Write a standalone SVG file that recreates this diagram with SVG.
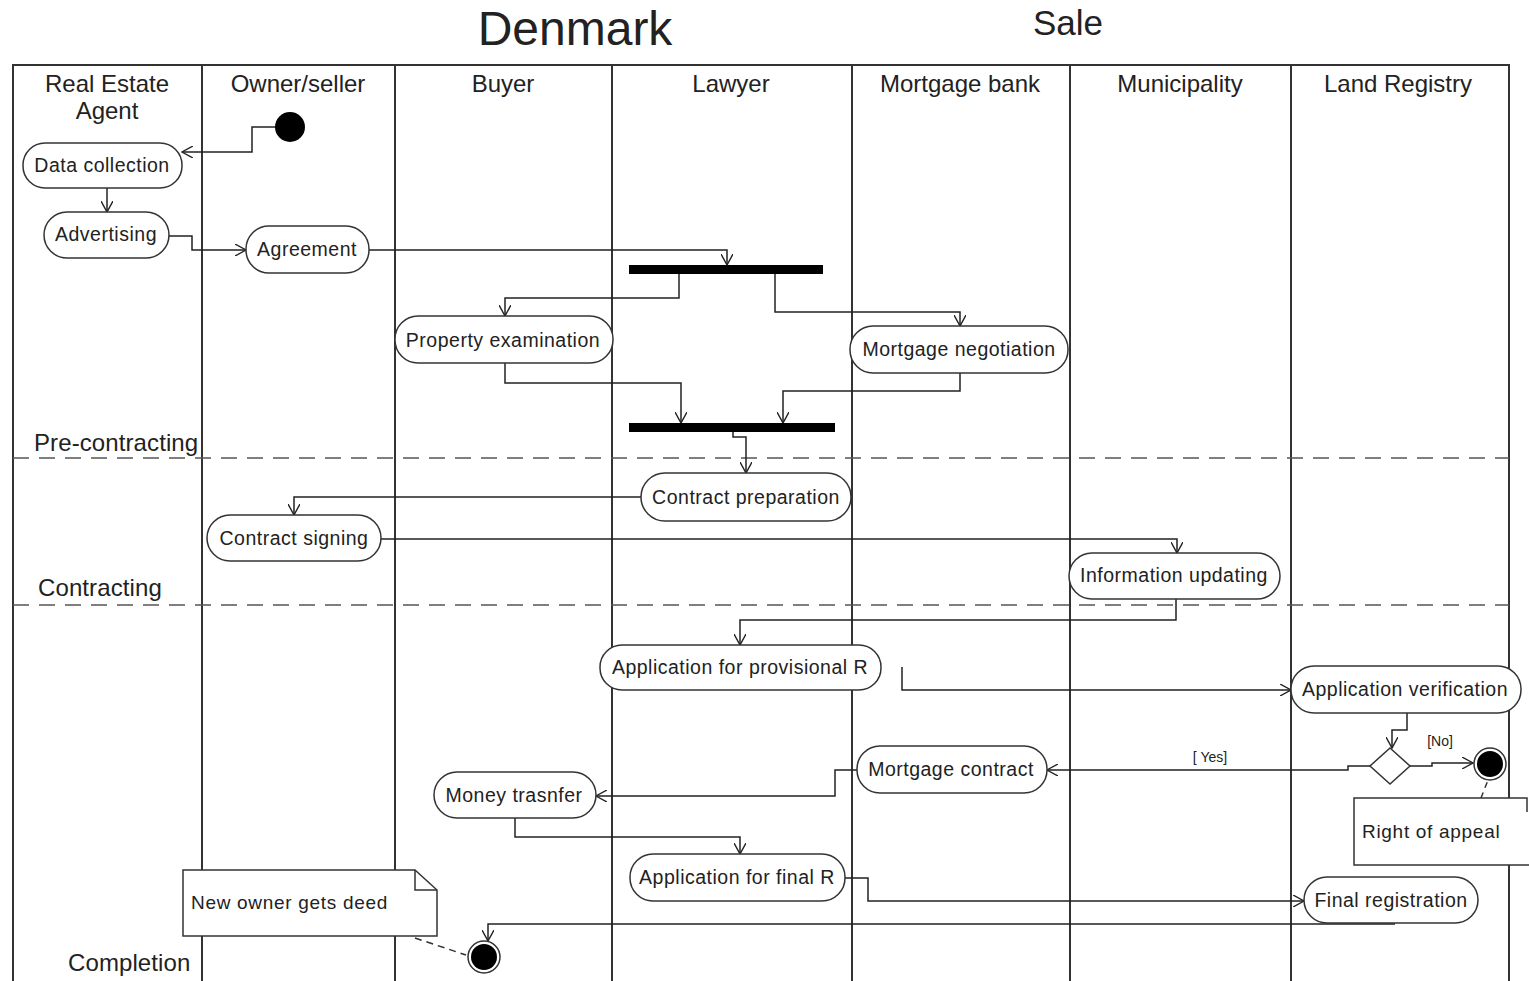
<svg xmlns="http://www.w3.org/2000/svg" width="1529" height="981" viewBox="0 0 1529 981">
<defs>
<marker id="arr" viewBox="0 0 12 12" refX="11" refY="6" markerWidth="12" markerHeight="12" markerUnits="userSpaceOnUse" orient="auto">
<path d="M0,0 L11,6 L0,12" fill="none" stroke="#222" stroke-width="1.4"/>
</marker>
<style>
text{font-family:"Liberation Sans",Arial,sans-serif;fill:#222}
.lane{stroke:#333;stroke-width:2;fill:none}
.phase{stroke:#555;stroke-width:1.5;stroke-dasharray:16,10;fill:none}
.node rect{fill:#fff;stroke:#333;stroke-width:1.5}
.node text{font-size:19.5px;text-anchor:middle;letter-spacing:0.5px}
.hdr{font-size:24px;text-anchor:middle}
.ph{font-size:24px;letter-spacing:0.1px}
.c{fill:none;stroke:#222;stroke-width:1.5;marker-end:url(#arr)}
.bar{fill:#000}
.note{fill:#fff;stroke:#333;stroke-width:1.5}
.nt{font-size:19px;letter-spacing:0.7px}
.small{font-size:14px}
</style>
</defs>
<rect width="1529" height="981" fill="#fff"/>
<text x="575" y="45" font-size="48" text-anchor="middle">Denmark</text>
<text x="1068" y="35" font-size="35" text-anchor="middle">Sale</text>

<g id="lanes">
<path class="lane" d="M13,981 V65 H1509 V981 M202,65 V981 M395,65 V981 M612,65 V981 M852,65 V981 M1070,65 V981 M1291,65 V981"/>
<text class="hdr" x="107" y="92">Real Estate</text>
<text class="hdr" x="107" y="119">Agent</text>
<text class="hdr" x="298" y="92">Owner/seller</text>
<text class="hdr" x="503" y="92">Buyer</text>
<text class="hdr" x="731" y="92">Lawyer</text>
<text class="hdr" x="960" y="92">Mortgage bank</text>
<text class="hdr" x="1180" y="92">Municipality</text>
<text class="hdr" x="1398" y="92">Land Registry</text>
</g>
<g id="phases">
<path class="phase" d="M13,458 H1509 M13,605 H1509"/>
<text class="ph" x="34" y="451">Pre-contracting</text>
<text class="ph" x="38" y="596">Contracting</text>
<text class="ph" x="68" y="971">Completion</text>
</g>

<g id="connectors">
<path class="c" d="M276,127 H252 V152 H182"/>
<path class="c" d="M107,188 V212"/>
<path class="c" d="M169,236 H192 V250 H246"/>
<path class="c" d="M369,250 H727 V265"/>
<path class="c" d="M679,274 V298 H505 V316"/>
<path class="c" d="M775,274 V312 H960 V326"/>
<path class="c" d="M505,363 V383 H681 V423"/>
<path class="c" d="M960,373 V391 H783 V423"/>
<path class="c" d="M733,432 V437 H746 V473"/>
<path class="c" d="M641,497 H294 V515"/>
<path class="c" d="M381,539 H1177 V553"/>
<path class="c" d="M1176,599 V620 H740 V645"/>
<path class="c" d="M902,667 V690 H1291"/>
<path class="c" d="M1407,713 V730 H1392 V748"/>
<path class="c" d="M1410,766 H1432 V763 H1473"/>
<path class="c" d="M1370,766 H1348 V770 H1047"/>
<path class="c" d="M857,770 H835 V796 H596"/>
<path class="c" d="M515,818 V837 H740 V854"/>
<path class="c" d="M845,878 H868 V901 H1304"/>
<path class="c" d="M1395,924 H488 V941"/>
<path d="M415,938 L466,955" fill="none" stroke="#333" stroke-width="1.5" stroke-dasharray="7,5"/>
<path d="M1481,798 L1488,780" fill="none" stroke="#333" stroke-width="1.5" stroke-dasharray="6,5"/>
<text class="small" x="1440" y="746" text-anchor="middle">[No]</text>
<text class="small" x="1210" y="762" text-anchor="middle">[ Yes]</text>
</g>

<g id="start"><circle cx="290" cy="127" r="15" fill="#000"/></g>
<g id="fork"><rect class="bar" x="629" y="265" width="194" height="9"/></g>
<g id="join"><rect class="bar" x="629" y="423" width="206" height="9"/></g>
<g id="decision"><polygon points="1390,748 1410,766 1390,784 1370,766" fill="#fff" stroke="#333" stroke-width="1.5"/></g>
<g id="end-no"><circle cx="1490" cy="764" r="16" fill="#fff" stroke="#333" stroke-width="1.5"/><circle cx="1490" cy="764" r="13" fill="#000"/></g>
<g id="end-final"><circle cx="484" cy="957" r="16" fill="#fff" stroke="#333" stroke-width="1.5"/><circle cx="484" cy="957" r="13" fill="#000"/></g>

<g id="data-collection" class="node"><rect x="23" y="143" width="159" height="45" rx="22"/><text x="102" y="172">Data collection</text></g>
<g id="advertising" class="node"><rect x="44" y="212" width="125" height="46" rx="23"/><text x="106" y="241">Advertising</text></g>
<g id="agreement" class="node"><rect x="246" y="226" width="123" height="47" rx="23"/><text x="307" y="256">Agreement</text></g>
<g id="property-examination" class="node"><rect x="395" y="316" width="218" height="47" rx="23"/><text x="503" y="347">Property examination</text></g>
<g id="mortgage-negotiation" class="node"><rect x="850" y="326" width="218" height="47" rx="23"/><text x="959" y="356">Mortgage negotiation</text></g>
<g id="contract-preparation" class="node"><rect x="641" y="473" width="210" height="48" rx="24"/><text x="746" y="504">Contract preparation</text></g>
<g id="contract-signing" class="node"><rect x="207" y="515" width="174" height="46" rx="23"/><text x="294" y="545">Contract signing</text></g>
<g id="information-updating" class="node"><rect x="1069" y="553" width="211" height="46" rx="23"/><text x="1174" y="582">Information updating</text></g>
<g id="app-provisional" class="node"><rect x="600" y="645" width="281" height="45" rx="22"/><text x="740" y="674">Application for provisional R</text></g>
<g id="app-verification" class="node"><rect x="1291" y="666" width="230" height="47" rx="23"/><text x="1405" y="696">Application verification</text></g>
<g id="mortgage-contract" class="node"><rect x="857" y="746" width="190" height="47" rx="23"/><text x="951" y="776">Mortgage contract</text></g>
<g id="money-transfer" class="node"><rect x="434" y="772" width="162" height="46" rx="23"/><text x="514" y="802">Money trasnfer</text></g>
<g id="app-final" class="node"><rect x="630" y="854" width="215" height="47" rx="23"/><text x="737" y="884">Application for final R</text></g>
<g id="final-registration" class="node"><rect x="1304" y="877" width="174" height="46" rx="23"/><text x="1391" y="907">Final registration</text></g>

<g id="note-deed"><path class="note" d="M183,870 H415 L437,890 V936 H183 Z"/><path d="M415,870 V890 H437" fill="none" stroke="#333" stroke-width="1.5"/><text class="nt" x="191" y="909">New owner gets deed</text></g>
<g id="note-appeal"><path class="note" d="M1529,865 H1354 V798 H1527 V812"/><text class="nt" x="1362" y="838">Right of appeal</text></g>
</svg>
